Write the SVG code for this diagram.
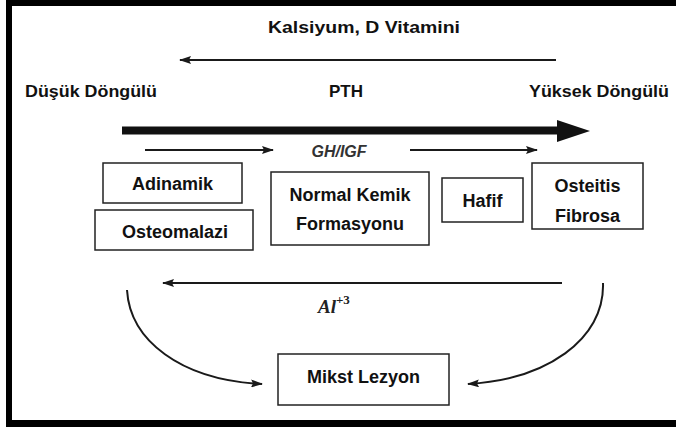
<svg xmlns="http://www.w3.org/2000/svg" width="676" height="428" viewBox="0 0 676 428">
  <style>
    .lbl { font-family: "Liberation Sans", Arial, sans-serif; font-weight: bold; font-size: 17px; fill: #111; }
    .big { font-size: 18px; }
    .mid { text-anchor: middle; }
    .box { fill: #fff; stroke: #222; stroke-width: 1.5; }
    .ln { fill: none; stroke: #1a1a1a; stroke-width: 2; }
    .frame { fill: #000; }
  </style>
  <defs>
    <marker id="head" viewBox="0 0 12 8" refX="11" refY="4" markerWidth="12" markerHeight="8" markerUnits="userSpaceOnUse" orient="auto">
      <path d="M0,0 L12,4 L0,8 L2,4 z" fill="#1a1a1a"/>
    </marker>
  </defs>

  <rect width="676" height="428" fill="#fff"/>

  <!-- frame -->
  <rect class="frame" x="6" y="0" width="670" height="6"/>
  <rect class="frame" x="6" y="0" width="6" height="426"/>
  <rect class="frame" x="6" y="420" width="670" height="7"/>

  <!-- headings -->
  <g id="kalsiyum">
    <text class="lbl mid" x="364" y="33" textLength="192" lengthAdjust="spacingAndGlyphs">Kalsiyum, D  Vitamini</text>
  </g>
  <g id="dusuk">
    <text class="lbl" x="25" y="97" textLength="132" lengthAdjust="spacingAndGlyphs">Düşük Döngülü</text>
  </g>
  <g id="pth">
    <text class="lbl mid" x="346" y="97">PTH</text>
  </g>
  <g id="yuksek">
    <text class="lbl" x="529" y="97" textLength="140" lengthAdjust="spacingAndGlyphs">Yüksek Döngülü</text>
  </g>
  <g id="ghigf">
    <text x="339" y="157" text-anchor="middle" font-family="Liberation Sans, Arial, sans-serif" font-weight="bold" font-style="italic" font-size="16" fill="#333">GH/IGF</text>
  </g>
  <g id="al">
    <text x="318" y="313" font-family="Liberation Serif, Times New Roman, serif" font-weight="bold" font-style="italic" font-size="19" fill="#222">Al<tspan font-size="13" font-style="normal" dy="-9">+3</tspan></text>
  </g>

  <!-- boxes -->
  <g id="adinamik">
    <rect class="box" x="103" y="163" width="139" height="40"/>
    <text class="lbl big mid" x="172.5" y="190">Adinamik</text>
  </g>
  <g id="osteomalazi">
    <rect class="box" x="95" y="210" width="158" height="40"/>
    <text class="lbl big mid" x="175" y="238">Osteomalazi</text>
  </g>
  <g id="normal-kemik">
    <rect class="box" x="271" y="172" width="158" height="73"/>
    <text class="lbl big mid" x="350" y="201">Normal Kemik</text>
    <text class="lbl big mid" x="350" y="230">Formasyonu</text>
  </g>
  <g id="hafif">
    <rect class="box" x="442" y="178" width="81" height="44"/>
    <text class="lbl big mid" x="482.5" y="207">Hafif</text>
  </g>
  <g id="osteitis">
    <rect class="box" x="532" y="163" width="111" height="66"/>
    <text class="lbl big mid" x="587.5" y="192">Osteitis</text>
    <text class="lbl big mid" x="587.5" y="222">Fibrosa</text>
  </g>
  <g id="mikst">
    <rect class="box" x="278" y="354" width="171" height="51"/>
    <text class="lbl big mid" x="363.5" y="383">Mikst Lezyon</text>
  </g>

  <!-- connectors -->
  <g id="connectors">
    <line class="ln" x1="556" y1="60" x2="180" y2="60" marker-end="url(#head)"/>
    <line x1="122" y1="130.5" x2="560" y2="130.5" stroke="#111" stroke-width="8"/>
    <path d="M557,120 L590,131 L557,142 z" fill="#111"/>
    <line class="ln" x1="145" y1="150" x2="273" y2="150" marker-end="url(#head)"/>
    <line class="ln" x1="410" y1="150" x2="537" y2="150" marker-end="url(#head)"/>
    <line class="ln" x1="562" y1="283" x2="163" y2="283" marker-end="url(#head)"/>
    <path class="ln" d="M127,290 C130,340 180,380 262,384" marker-end="url(#head)"/>
    <path class="ln" d="M603,283 C605,340 545,380 468,384" marker-end="url(#head)"/>
  </g>
</svg>
